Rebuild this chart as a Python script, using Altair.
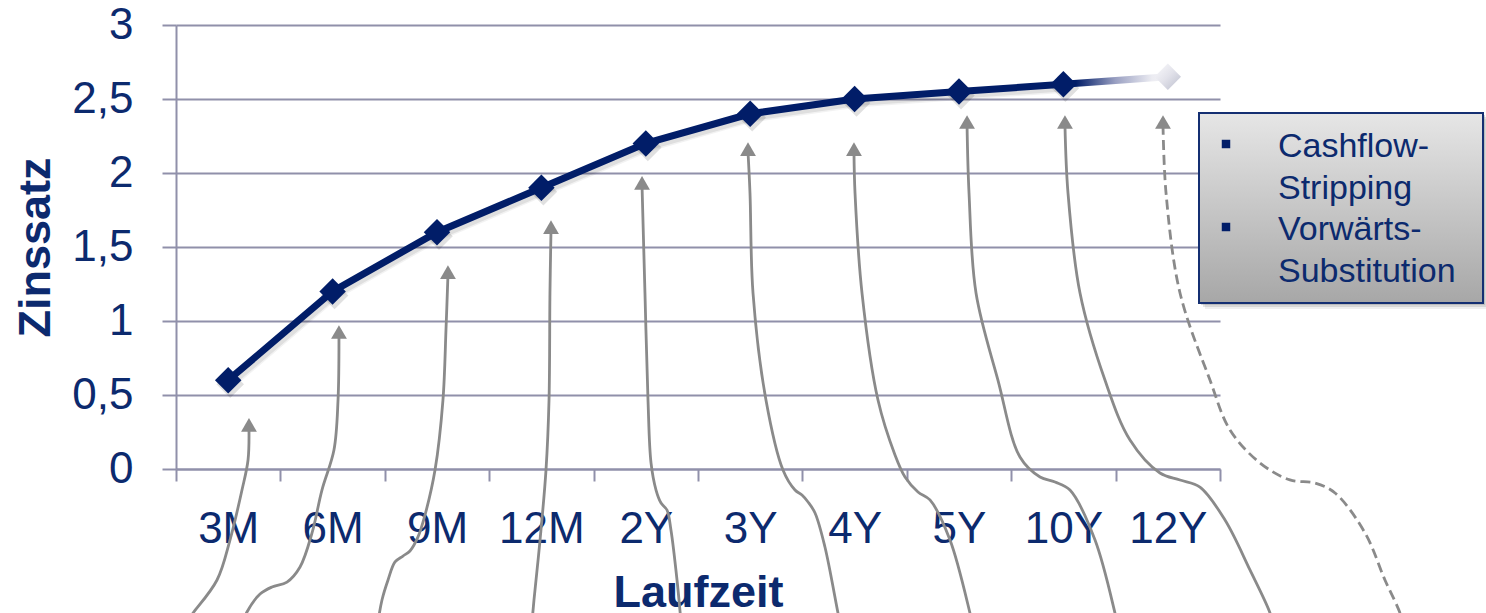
import json

import altair as alt
import pandas as pd

# Zinsstrukturkurve: Laufzeiten und Zinssätze
laufzeiten = ["3M", "6M", "9M", "12M", "2Y", "3Y", "4Y", "5Y", "10Y", "12Y"]
zinssaetze = [0.6, 1.2, 1.6, 1.9, 2.2, 2.4, 2.5, 2.55, 2.6, 2.65]
zins_ticks = [0, 0.5, 1, 1.5, 2, 2.5, 3]

legende_zeilen = [["Cashflow-", "Stripping"], ["Vorwärts-", "Substitution"]]

# Pfeile unter den Stützstellen (x: Position auf der Laufzeitachse, y: Zinssatz)
pfeil_spitze_x = [0.699, 1.561, 2.605, 3.592, 4.464, 5.479, 6.494, 7.577, 8.515, 9.454]
pfeil_spitze_y = [0.345, 0.973, 1.378, 1.682, 1.980, 2.209, 2.209, 2.392, 2.392, 2.392]
pfeil_gestrichelt = [False] * 9 + [True]
pfeil_x = [
    [0.699, 0.690, 0.632, 0.517, 0.393, 0.163, 0.096],
    [1.561, 1.552, 1.513, 1.398, 1.303, 1.188, 1.063, 0.920, 0.805, 0.680, 0.642],
    [2.605, 2.586, 2.557, 2.481, 2.385, 2.318, 2.241, 2.174, 2.098, 2.031, 1.973, 1.935],
    [3.592, 3.582, 3.573, 3.544, 3.487, 3.429, 3.410],
    [4.464, 4.492, 4.521, 4.550, 4.598, 4.646, 4.703, 4.741, 4.799, 4.837],
    [5.479, 5.498, 5.527, 5.651, 5.814, 5.929, 5.996, 6.054, 6.121, 6.216, 6.341, 6.360],
    [6.494, 6.504, 6.571, 6.724, 6.887, 6.983, 7.107, 7.222, 7.414, 7.605, 7.625],
    [7.577, 7.596, 7.663, 7.873, 8.084, 8.276, 8.420, 8.563, 8.803, 8.994, 9.013],
    [8.515, 8.544, 8.659, 8.898, 9.138, 9.425, 9.617, 9.808, 10.048, 10.287, 10.479, 10.498],
    [9.454, 9.483, 9.617, 9.904, 10.096, 10.383, 10.670, 10.910, 11.102, 11.389, 11.580, 11.724, 11.743],
]
pfeil_y = [
    [0.277, 0.061, -0.142, -0.480, -0.750, -0.973, -1.034],
    [0.905, 0.466, 0.128, -0.142, -0.432, -0.662, -0.764, -0.797, -0.845, -0.966, -1.034],
    [1.311, 0.939, 0.466, -0.007, -0.311, -0.459, -0.554, -0.588, -0.628, -0.750, -0.885, -1.034],
    [1.615, 1.189, 0.466, -0.007, -0.480, -0.885, -1.034],
    [1.912, 1.189, 0.466, 0.041, -0.142, -0.230, -0.277, -0.412, -0.750, -1.034],
    [2.142, 1.865, 1.189, 0.466, -0.007, -0.142, -0.176, -0.223, -0.297, -0.527, -0.973, -1.034],
    [2.142, 1.865, 1.189, 0.466, 0.095, -0.054, -0.155, -0.209, -0.480, -0.973, -1.034],
    [2.324, 1.865, 1.189, 0.601, 0.081, -0.054, -0.088, -0.142, -0.480, -0.973, -1.034],
    [2.324, 1.865, 1.189, 0.601, 0.196, -0.027, -0.074, -0.122, -0.345, -0.682, -0.973, -1.034],
    [2.324, 1.865, 1.189, 0.601, 0.264, 0.041, -0.074, -0.095, -0.162, -0.432, -0.750, -0.973, -1.034],
]

NAVY_TEXT = "#0c2a6e"
NAVY_LINE = "#011d68"
GRID = "#9090aa"
ARROW = "#8a8a8a"
FONT = "Liberation Sans"

W, H = 1044, 444
n = len(laufzeiten)

kurve = pd.DataFrame({
    "laufzeit": laufzeiten,
    "x": [i + 0.5 for i in range(n)],
    "y": zinssaetze,
})
gemessen = kurve.iloc[:-1]
ausblick = kurve.iloc[-2:]
letzter = kurve.iloc[-1:]

pfeil_rows = []
for k, (xs, ys) in enumerate(zip(pfeil_x, pfeil_y)):
    for i, (px, py) in enumerate(zip(xs, ys)):
        pfeil_rows.append({"pfeil": k, "i": i, "x": px, "y": py,
                           "gestrichelt": pfeil_gestrichelt[k]})
pfeile = pd.DataFrame(pfeil_rows)
spitzen = pd.DataFrame({"x": pfeil_spitze_x, "y": pfeil_spitze_y})

x_label_expr = "datum.value < %d ? %s[datum.value] : ''" % (n, json.dumps(laufzeiten))

x_enc = alt.X(
    "x:Q",
    scale=alt.Scale(domain=[0, n], nice=False, zero=False),
    axis=alt.Axis(
        values=list(range(n + 1)), labelExpr=x_label_expr, labelOffset=W / n / 2,
        labelFlush=False, labelOverlap=False, grid=False,
        tickSize=12, tickWidth=2, tickColor=GRID, domainColor=GRID, domainWidth=2,
        labelFont=FONT, labelFontSize=44, labelColor=NAVY_TEXT, labelPadding=26,
        title="Laufzeit", titleFont=FONT, titleFontSize=45, titleFontWeight="bold",
        titleColor=NAVY_TEXT, titleX=W / 2, titleY=137, titleAlign="center",
        titleBaseline="alphabetic",
    ),
)
y_enc = alt.Y(
    "y:Q",
    scale=alt.Scale(domain=[0, 3], nice=False, zero=False),
    axis=alt.Axis(
        values=zins_ticks, labelExpr="replace(toString(datum.value), '.', ',')",
        grid=True, gridColor=GRID, gridWidth=2,
        tickSize=14, tickWidth=2, tickColor=GRID, domainColor=GRID, domainWidth=2,
        labelFont=FONT, labelFontSize=44, labelColor=NAVY_TEXT, labelPadding=29,
        title="Zinssatz", titleFont=FONT, titleFontSize=45, titleFontWeight="bold",
        titleColor=NAVY_TEXT, titleAngle=-90, titleX=-141, titleY=H / 2,
        titleAlign="center", titleBaseline="middle",
    ),
)

pfeil_linien = alt.Chart(pfeile).transform_filter("!datum.gestrichelt").mark_line(
    interpolate="catmull-rom", color=ARROW, strokeWidth=2.8
).encode(x=x_enc, y=y_enc, detail="pfeil:N", order="i:Q")

pfeil_gestr = alt.Chart(pfeile).transform_filter("datum.gestrichelt").mark_line(
    interpolate="catmull-rom", color=ARROW, strokeWidth=2.8, strokeDash=[10, 5]
).encode(x=x_enc, y=y_enc, detail="pfeil:N", order="i:Q")

pfeil_koepfe = alt.Chart(spitzen).mark_point(
    shape="triangle-up", filled=True, size=250, color=ARROW, opacity=1, yOffset=7
).encode(x=x_enc, y=y_enc)

# weicher Schatten unter Kurve und Rauten
schatten_kurve = [
    alt.Chart(gemessen).mark_line(color="#000000", strokeWidth=w, opacity=op,
                                  xOffset=2, yOffset=3).encode(x=x_enc, y=y_enc)
    for w, op in [(11, 0.05), (8, 0.08)]
]
schatten_rauten = alt.Chart(gemessen).mark_point(
    shape="diamond", filled=True, size=760, color="#000000", opacity=0.12,
    xOffset=2, yOffset=4
).encode(x=x_enc, y=y_enc)

fade = alt.Gradient(
    gradient="linear", x1=0, x2=1, y1=0, y2=0,
    stops=[
        alt.GradientStop(color=NAVY_LINE, offset=0),
        alt.GradientStop(color=NAVY_LINE, offset=0.12),
        alt.GradientStop(color="#9aa0c2", offset=0.5),
        alt.GradientStop(color="#ececf2", offset=0.85),
        alt.GradientStop(color="#f2f2f6", offset=1),
    ],
)
ausblick_linie = alt.Chart(ausblick).mark_line(stroke=fade, strokeWidth=7).encode(
    x=x_enc, y=y_enc
)

kurve_linie = alt.Chart(gemessen).mark_line(color=NAVY_LINE, strokeWidth=7).encode(
    x=x_enc, y=y_enc
)

rauten = alt.Chart(gemessen).mark_point(
    shape="diamond", filled=True, size=700, color=NAVY_LINE, opacity=1
).encode(x=x_enc, y=y_enc)

raute_hell = alt.Gradient(
    gradient="linear", x1=0, x2=1, y1=0, y2=1,
    stops=[
        alt.GradientStop(color="#fbfbfd", offset=0),
        alt.GradientStop(color="#e2e2ea", offset=0.5),
        alt.GradientStop(color="#b9bccc", offset=1),
    ],
)
raute_letzte = alt.Chart(letzter).mark_point(
    shape="diamond", filled=True, size=700, fill=raute_hell, opacity=1
).encode(x=x_enc, y=y_enc)

# Legendenkasten mit Verlauf
box = pd.DataFrame({"k": [0]})
BX0, BX1, BY0, BY1 = 1023, 1307, 88, 278
schatten = [
    alt.Chart(box).mark_rect(color="#7a7a7a", opacity=op).encode(
        x=alt.value(BX0 + d), x2=alt.value(BX1 + d),
        y=alt.value(BY0 + d), y2=alt.value(BY1 + d),
    )
    for d, op in [(6, 0.12), (4, 0.2), (2, 0.3)]
]
kasten_fill = alt.Gradient(
    gradient="linear", x1=0, x2=0, y1=0, y2=1,
    stops=[
        alt.GradientStop(color="#e6e6e6", offset=0),
        alt.GradientStop(color="#a7a7a7", offset=1),
    ],
)
kasten = alt.Chart(box).mark_rect(fill=kasten_fill, stroke="#142f72", strokeWidth=2).encode(
    x=alt.value(BX0), x2=alt.value(BX1), y=alt.value(BY0), y2=alt.value(BY1)
)

legende_layers = []
for j, zeilen in enumerate(legende_zeilen):
    y_first = 119 + j * 83
    legende_layers.append(
        alt.Chart(box).mark_point(shape="square", filled=True, size=72,
                                  color=NAVY_LINE, opacity=1).encode(
            x=alt.value(1050), y=alt.value(y_first)
        )
    )
    for r, zeile in enumerate(zeilen):
        legende_layers.append(
            alt.Chart(pd.DataFrame({"t": [zeile]})).mark_text(
                align="left", baseline="alphabetic", font=FONT, fontSize=34,
                color=NAVY_TEXT,
            ).encode(
                text="t:N", x=alt.value(1102), y=alt.value(132 + j * 83 + r * 41.5)
            )
        )

chart = alt.layer(
    pfeil_linien, pfeil_gestr, pfeil_koepfe,
    *schatten_kurve, schatten_rauten,
    ausblick_linie, kurve_linie, rauten, raute_letzte,
    *schatten, kasten, *legende_layers,
).properties(
    width=W, height=H,
    padding={"left": 176, "top": 25, "right": 266, "bottom": 144},
    autosize=alt.AutoSizeParams(type="none"),
    background="white",
).configure_view(stroke=None)

chart.save("out.html", embed_options={"renderer": "svg", "actions": False})
